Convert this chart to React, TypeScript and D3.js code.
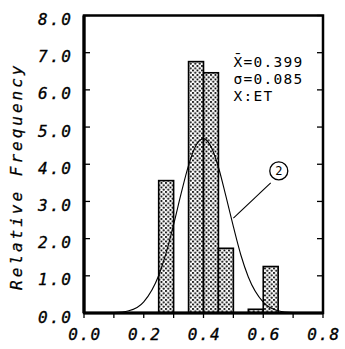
import { scaleLinear, line, curveMonotoneX, range } from "d3";

const width = 345;
const height = 349;
const margin = { top: 15.5, right: 22, bottom: 36, left: 84 };
const innerWidth = width - margin.left - margin.right;
const innerHeight = height - margin.top - margin.bottom;

// histogram bins (left edge, relative frequency)
const binStarts = [0.25, 0.35, 0.40, 0.45, 0.55, 0.60];
const binHeights = [3.56, 6.76, 6.46, 1.74, 0.1, 1.25];
const binWidth = 0.05;

// fitted curve
const curveX = [0.0, 0.05, 0.1, 0.15, 0.2, 0.25, 0.275, 0.3, 0.325, 0.35, 0.375, 0.4, 0.425, 0.45, 0.475, 0.5, 0.525, 0.55, 0.6, 0.65, 0.7, 0.75, 0.8];
const curveY = [0.0, 0.0, 0.01, 0.06, 0.3, 1.01, 1.62, 2.38, 3.21, 3.97, 4.51, 4.69, 4.48, 3.92, 3.14, 2.32, 1.56, 0.97, 0.29, 0.06, 0.01, 0.0, 0.0];

const xTickLabels = ["0.0", "0.2", "0.4", "0.6", "0.8"];
const yTickLabels = ["0.0", "1.0", "2.0", "3.0", "4.0", "5.0", "6.0", "7.0", "8.0"];
const legendLines = ["X\u0304=0.399", "\u03c3=0.085", "X:ET"];

const labelFont = "'DejaVu Sans Mono', monospace";

export default function App() {
  const xScale = scaleLinear().domain([0, 0.8]).range([0, innerWidth]);
  const yScale = scaleLinear().domain([0, 8]).range([innerHeight, 0]);

  const pts = curveX.map((x, i) => [x, curveY[i]] as [number, number]);
  const lineGen = line<[number, number]>()
    .x((d) => xScale(d[0]))
    .y((d) => yScale(d[1]))
    .curve(curveMonotoneX);

  const xMinor = range(0, 0.81, 0.1);

  return (
    <svg width={width} height={height} style={{ position: "absolute", left: 0, top: 0, background: "#fff" }}>
      <defs>
        <pattern id="dots" width={4.5} height={4.5} patternUnits="userSpaceOnUse">
          <rect width={4.5} height={4.5} fill="#fff" />
          <circle cx={1} cy={1} r={1.05} fill="#000" />
          <circle cx={3.25} cy={3.25} r={1.05} fill="#000" />
        </pattern>
      </defs>
      <g transform={`translate(${margin.left},${margin.top})`}>
        {binStarts.map((b, i) => (
          <rect
            key={i}
            x={xScale(b)}
            y={yScale(binHeights[i])}
            width={xScale(b + binWidth) - xScale(b)}
            height={yScale(0) - yScale(binHeights[i])}
            fill="url(#dots)"
            stroke="#000"
            strokeWidth={1.6}
          />
        ))}
        <path d={lineGen(pts) ?? ""} fill="none" stroke="#000" strokeWidth={1.1} />

        {/* frame */}
        <rect x={0} y={0} width={innerWidth} height={innerHeight} fill="none" stroke="#000" strokeWidth={2.5} />
        <line x1={0} x2={innerWidth} y1={innerHeight} y2={innerHeight} stroke="#000" strokeWidth={3} />
        <line x1={0} x2={0} y1={0} y2={innerHeight} stroke="#000" strokeWidth={3.2} />

        {/* y ticks */}
        {yTickLabels.map((t) => (
          <g key={t} transform={`translate(0,${yScale(+t)})`}>
            <line x1={0} x2={6} stroke="#000" strokeWidth={1.3} />
            <line x1={innerWidth - 6} x2={innerWidth} stroke="#000" strokeWidth={1.3} />
            <text
              x={-11}
              y={4}
              dy="0.35em"
              textAnchor="end"
              fontFamily={labelFont}
              fontStyle="italic"
              fontSize={16}
              letterSpacing={2}
              stroke="#000"
              strokeWidth={0.35}
            >
              {t}
            </text>
          </g>
        ))}

        {/* x ticks */}
        {xMinor.map((v, i) => (
          <line key={i} x1={xScale(v)} x2={xScale(v)} y1={innerHeight} y2={innerHeight + 5} stroke="#000" strokeWidth={1.3} />
        ))}
        {xTickLabels.map((t) => (
          <text
            key={t}
            x={xScale(+t) + 1}
            y={innerHeight + 27}
            textAnchor="middle"
            fontFamily={labelFont}
            fontStyle="italic"
            fontSize={16}
            letterSpacing={1.5}
            stroke="#000"
            strokeWidth={0.35}
          >
            {t}
          </text>
        ))}

        {/* legend */}
        {legendLines.map((t, i) => (
          <text
            key={t}
            x={xScale(0.50)}
            y={yScale(6.75) + i * 17}
            dy="0.35em"
            fontFamily={labelFont}
            fontSize={14.5}
            letterSpacing={1.3}
          >
            {t}
          </text>
        ))}

        {/* annotation (2) */}
        <line x1={xScale(0.50)} y1={yScale(2.55)} x2={xScale(0.625)} y2={yScale(3.5)} stroke="#000" strokeWidth={1.1} />
        <circle cx={xScale(0.652)} cy={yScale(3.82)} r={9} fill="#fff" stroke="#000" strokeWidth={1.3} />
        <text x={xScale(0.652)} y={yScale(3.82)} dy="0.35em" textAnchor="middle" fontFamily={labelFont} fontSize={12}>
          2
        </text>
      </g>
      <text
        transform={`translate(22,${margin.top + innerHeight / 2 + 12}) rotate(-90)`}
        textAnchor="middle"
        fontFamily={labelFont}
        fontStyle="italic"
        fontSize={16}
        letterSpacing={3}
        stroke="#000"
        strokeWidth={0.25}
      >
        Relative Frequency
      </text>
    </svg>
  );
}
